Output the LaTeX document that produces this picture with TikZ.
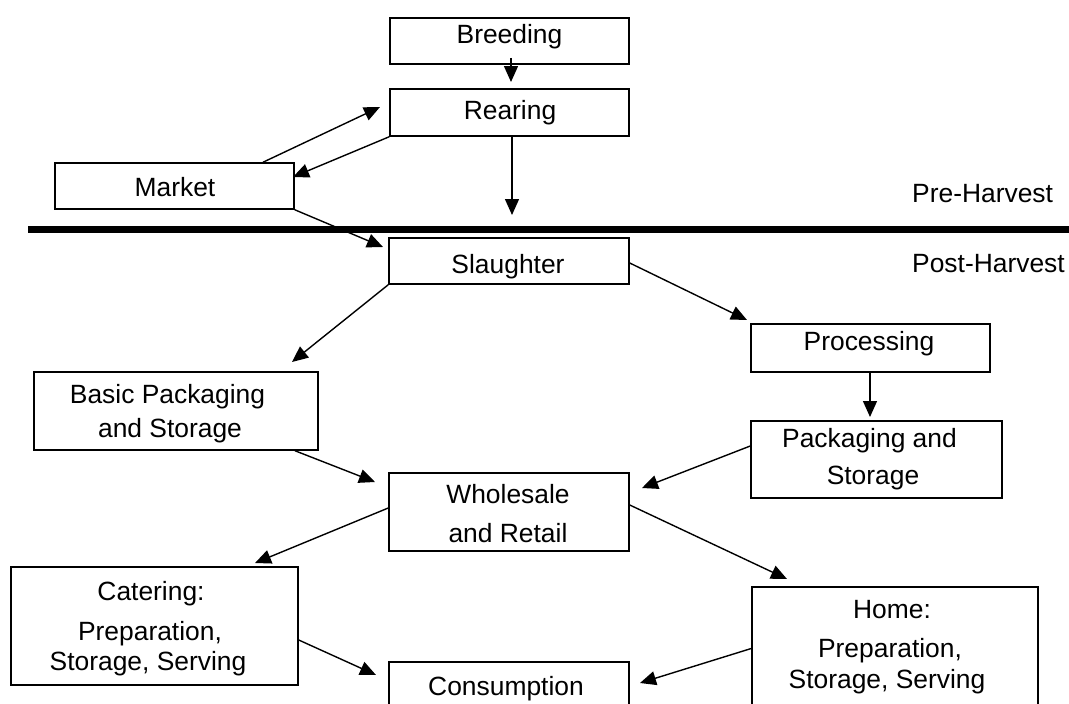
\documentclass[tikz,border=0pt]{standalone}
\usepackage{fontspec}
\setmainfont{Liberation Sans}
\usetikzlibrary{arrows.meta}

\begin{document}
\begin{tikzpicture}[x=1pt,y=-1pt,
  box/.style={draw, line width=1.5pt, inner sep=0pt, rectangle},
  lbl/.style={anchor=base, inner sep=0pt, font=\fontsize{26.4pt}{30pt}\selectfont},
  side/.style={anchor=base west, inner sep=0pt, font=\fontsize{26.4pt}{30pt}\selectfont},
  flow/.style={line width=1.4pt, -{Triangle[length=16pt,width=14pt]}}]

\useasboundingbox (0,0) rectangle (1069,704);

% boxes
\node[box, minimum width=239pt, minimum height=46pt]  (breed)  at (509.5,41)   {};
\node[box, minimum width=239pt, minimum height=47pt]  (rear)   at (509.5,112.5) {};
\node[box, minimum width=239pt, minimum height=46pt]  (market) at (174.5,186)  {};
\node[box, minimum width=240pt, minimum height=46pt]  (slaug)  at (509,261)    {};
\node[box, minimum width=239pt, minimum height=48pt]  (proc)   at (870.5,348)  {};
\node[box, minimum width=284pt, minimum height=78pt]  (basic)  at (176,411)    {};
\node[box, minimum width=251pt, minimum height=77pt]  (pack)   at (876.5,459.5) {};
\node[box, minimum width=240pt, minimum height=78pt]  (whole)  at (509,512)    {};
\node[box, minimum width=287pt, minimum height=118pt] (cater)  at (154.5,626)  {};
\node[box, minimum width=286pt, minimum height=123pt] (home)   at (895,648.5)  {};
\node[box, minimum width=240pt, minimum height=48pt]  (consum) at (509,686)    {};

% box texts
\node[lbl] (tBreed)  at (509.5,43)  {Breeding};
\node[lbl] (tRear)   at (510,119)   {Rearing};
\node[lbl] (tMarket) at (175,196)   {Market};
\node[lbl] (tSlaug)  at (508,273)   {Slaughter};
\node[lbl] (tProc)   at (869,350)   {Processing};
\node[lbl] (tBasicA) at (167.5,403) {Basic Packaging};
\node[lbl] (tBasicB) at (170,437)   {and Storage};
\node[lbl] (tPackA)  at (869.5,447) {Packaging and};
\node[lbl] (tPackB)  at (873,484)   {Storage};
\node[lbl] (tWholeA) at (508,503)   {Wholesale};
\node[lbl] (tWholeB) at (508,542)   {and Retail};
\node[lbl] (tCatA)   at (151,600)   {Catering:};
\node[lbl] (tCatB)   at (150,640)   {Preparation,};
\node[lbl] (tCatC)   at (148,670)   {Storage, Serving};
\node[lbl] (tHomeA)  at (892,618)   {Home:};
\node[lbl] (tHomeB)  at (890,657)   {Preparation,};
\node[lbl] (tHomeC)  at (887,688)   {Storage, Serving};
\node[lbl] (tCons)   at (506,695)   {Consumption};

% harvest divider and its labels
\coordinate (divL) at (28,229.5);
\coordinate (divR) at (1069,229.5);
\draw[line width=7.5pt] (divL) -- (divR);
\node[side] (pre)  at (912,202) {Pre-Harvest};
\node[side] (post) at (912,272) {Post-Harvest};

% free ends of the connectors
\coordinate (hBreed)  at (511,82);
\coordinate (hRear)   at (512,215);
\coordinate (hMkRear) at (380,107);
\coordinate (hRearMk) at (293,177);
\coordinate (hMkSl)   at (383,247);
\coordinate (hSlPr)   at (747,320);
\coordinate (hSlBa)   at (292,362);
\coordinate (hPrPa)   at (870,417);
\coordinate (hBaWh)   at (375,482);
\coordinate (hPaWh)   at (642,488);
\coordinate (hWhCa)   at (255,563);
\coordinate (hWhHo)   at (787,579);
\coordinate (hCaCo)   at (376,675);
\coordinate (hHoCo)   at (640,683);

% connectors
\draw[flow] ([xshift=1.5pt,yshift=7pt]breed.south) -- (hBreed);
\draw[flow] ([xshift=2.5pt]rear.south) -- (hRear);
\draw[flow] ([xshift=88.5pt]market.north) -- (hMkRear);
\draw[flow] (rear.south west) -- (hRearMk);
\draw[flow] (market.south east) -- (hMkSl);
\draw[flow] ([yshift=-2pt]slaug.east) -- (hSlPr);
\draw[flow] (slaug.south west) -- (hSlBa);
\draw[flow] ([xshift=-0.5pt]proc.south) -- (hPrPa);
\draw[flow] ([xshift=119pt]basic.south) -- (hBaWh);
\draw[flow] ([yshift=13.5pt]pack.west) -- (hPaWh);
\draw[flow] ([yshift=4pt]whole.west) -- (hWhCa);
\draw[flow] ([yshift=7pt]whole.east) -- (hWhHo);
\draw[flow] ([yshift=-14pt]cater.east) -- (hCaCo);
\draw[flow] (home.west) -- (hHoCo);

\end{tikzpicture}
\end{document}
